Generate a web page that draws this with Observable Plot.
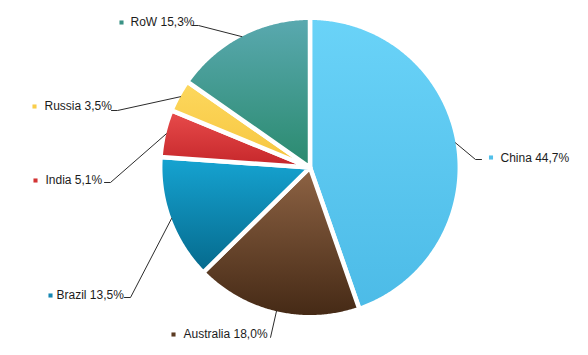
<!DOCTYPE html>
<html><head><meta charset="utf-8">
<script src="https://cdn.jsdelivr.net/npm/d3@7"></script>
<script src="https://cdn.jsdelivr.net/npm/@observablehq/plot@0.6"></script>
<style>body{margin:0;background:#fff}#chart{width:588px;height:355px}</style>
</head><body><div id="chart"></div>
<script>
// ---- data ----
const categories = ["China", "Australia", "Brazil", "India", "Russia", "RoW"];
const shares = [44.7, 18.0, 13.5, 5.1, 3.5, 15.3];
const shareLabels = ["44,7%", "18,0%", "13,5%", "5,1%", "3,5%", "15,3%"];

// ---- styles ----
const gradTop    = ["#6ad3f8", "#8e6344", "#16a4d2", "#e84c4c", "#fdd85e", "#5aa9b0"];
const gradBottom = ["#4cbbe7", "#442915", "#05698c", "#c5262a", "#f6c53e", "#2a8a6e"];
const markerColors = ["#52c0ea", "#5b3b22", "#1587b3", "#d33434", "#f9cd4a", "#3a9285"];

// ---- layout (pixels) ----
const W = 588, H = 355, CX = 309.5, CY = 167, R = 149.8, GAP = 4.5;
const labelAnchor = [[500, 158], [183, 334], [56, 295], [45, 180], [44, 106], [130, 22]];
const markerPos   = [[490.5, 157], [173, 334], [50, 295], [35, 180], [34, 106], [121, 22]];
const leaderElbow = [[475, 159], [270, 337], [130, 297], [110, 182], [117, 110], [198, 25]];
const leaderEnd   = [[481, 159], [270, 337], [124, 297], [104, 182], [111, 110], [192, 25]];

const ux = px => (px - CX) / R;
const uy = py => (CY - py) / R;

const arcs = d3.pie().sort(null).value(d => d)(shares);

const slices = arcs.map((a, i) => {
  const pts = [{x: 0, y: 0}];
  const n = Math.max(4, Math.ceil((a.endAngle - a.startAngle) / (Math.PI / 360)));
  for (let k = 0; k <= n; k++) {
    const t = a.startAngle + (a.endAngle - a.startAngle) * k / n;
    pts.push({x: Math.sin(t), y: Math.cos(t)});
  }
  return pts;
});

const leaders = [];
arcs.forEach((a, i) => {
  const m = (a.startAngle + a.endAngle) / 2;
  const rEdge = 1 - (GAP / 2) / R;
  leaders.push({k: i, x: Math.sin(m) * rEdge, y: Math.cos(m) * rEdge});
  leaders.push({k: i, x: ux(leaderElbow[i][0]), y: uy(leaderElbow[i][1])});
  leaders.push({k: i, x: ux(leaderEnd[i][0]), y: uy(leaderEnd[i][1])});
});

const labels = categories.map((c, i) => ({
  text: `${c} ${shareLabels[i]}`,
  x: ux(labelAnchor[i][0]), y: uy(labelAnchor[i][1])
}));
const markers = categories.map((c, i) => ({
  color: markerColors[i], x: ux(markerPos[i][0]), y: uy(markerPos[i][1])
}));

const chart = Plot.plot({
  width: W, height: H, margin: 0,
  style: {background: "#fff", overflow: "visible"},
  x: {domain: [-1, 1], range: [CX - R, CX + R], axis: null},
  y: {domain: [-1, 1], range: [CY + R, CY - R], axis: null},
  color: {type: "identity"},
  marks: [
    ...slices.map((pts, i) => Plot.line(pts, {
      x: "x", y: "y", curve: "linear-closed",
      fill: `url(#grad${i})`, stroke: "white", strokeWidth: GAP, strokeLinejoin: "round"
    })),
    Plot.line(leaders, {x: "x", y: "y", z: "k", stroke: "#2b2b2b", strokeWidth: 1}),
    Plot.dot(markers, {x: "x", y: "y", symbol: "square", r: 2.3, fill: "color", stroke: null}),
    Plot.text(labels, {x: "x", y: "y", text: "text", textAnchor: "start",
      fontSize: 12, fontFamily: "Liberation Sans, Arial, sans-serif", fill: "#1c1c1c"})
  ]
});

const defs = d3.select(chart).insert("defs", ":first-child");
categories.forEach((c, i) => {
  const g = defs.append("linearGradient").attr("id", `grad${i}`)
    .attr("x1", 0).attr("y1", 0).attr("x2", 0).attr("y2", 1);
  g.append("stop").attr("offset", "0%").attr("stop-color", gradTop[i]);
  g.append("stop").attr("offset", "100%").attr("stop-color", gradBottom[i]);
});

document.getElementById("chart").appendChild(chart);
</script>
</body></html>
